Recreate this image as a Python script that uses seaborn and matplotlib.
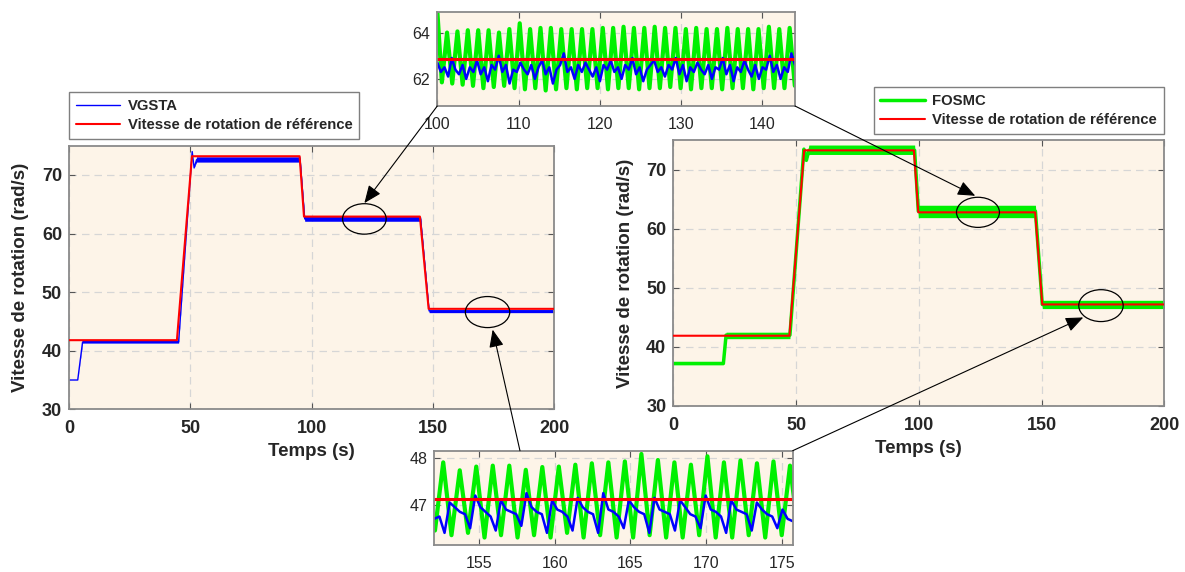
import numpy as np
import matplotlib
matplotlib.use("Agg")
import matplotlib.pyplot as plt
import seaborn as sns
from matplotlib.patches import Ellipse, ConnectionPatch

# ---- data ----
# left panel (VGSTA)
t_ref_l = [0, 44.5, 50.7, 95.1, 96.9, 144.7, 148.3, 200]
w_ref_l = [41.8, 41.8, 73.2, 73.2, 62.9, 62.9, 47.15, 47.15]
t_vg = [0, 3.6, 5.6, 45.2, 50.8, 51.6, 52.6, 95.3, 97.2, 145.0, 148.5, 200]
w_vg = [35.0, 35.0, 41.5, 41.5, 74.0, 71.2, 72.6, 72.6, 62.5, 62.5, 46.8, 46.8]
w_vg_lo = [35.0, 35.0, 41.3, 41.3, 74.0, 71.2, 72.2, 72.2, 62.1, 62.1, 46.5, 46.5]
w_vg_hi = [35.0, 35.0, 41.8, 41.8, 74.0, 71.2, 73.1, 73.1, 62.9, 62.9, 47.0, 47.0]

# right panel (FOSMC)
t_ref_r = [0, 47.3, 53.3, 98.0, 99.8, 147.4, 150.3, 200]
w_ref_r = [41.9, 41.9, 73.3, 73.3, 62.8, 62.8, 47.2, 47.2]
t_fo = [0, 20.4, 21.5, 47.5, 53.2, 54.2, 55.2, 98.3, 99.8, 147.5, 150.3, 200]
w_fo = [37.2, 37.2, 42.0, 42.0, 73.5, 71.6, 73.3, 73.3, 63.0, 63.0, 47.2, 47.2]
w_fo_lo = [37.0, 37.0, 41.4, 41.4, 73.5, 71.6, 72.6, 72.6, 61.9, 61.9, 46.5, 46.5]
w_fo_hi = [37.4, 37.4, 42.5, 42.5, 73.5, 71.6, 74.2, 74.2, 64.0, 64.0, 47.9, 47.9]

# top zoom (100-144 s)
top_ref = 62.85
top_g_first = 64.95
top_g_t0, top_g_period = 101.2, 1.277
top_g_peaks = [64.0, 64.05, 64.1, 64.1, 64.1, 64.0, 64.15, 64.4, 64.15, 64.2,
               64.2, 64.15, 64.15, 64.15, 64.15, 64.2, 64.2, 64.25, 64.2, 64.2,
               64.25, 64.2, 64.2, 64.15, 64.2, 64.15, 64.15, 64.2, 64.15, 64.15,
               64.15, 64.25, 64.15, 64.2]
top_g_troughs = [61.85, 61.8, 61.75, 61.7, 61.6, 61.65, 61.7, 61.6, 61.55, 61.6,
                 61.5, 61.55, 61.6, 61.55, 61.6, 61.6, 61.55, 61.6, 61.6, 61.55,
                 61.6, 61.6, 61.65, 61.6, 61.55, 61.6, 61.6, 61.55, 61.6, 61.6,
                 61.55, 61.6, 61.6, 61.6, 61.7]
top_b = [62.7, 62.3, 62.5, 62.1, 62.9, 62.4, 62.2, 62.6, 62.0, 62.5, 62.3, 62.8, 62.2,
         62.5, 61.9, 62.6, 62.4, 63.0, 62.3, 62.6, 61.8, 62.4, 62.3, 62.7, 62.4, 62.2,
         62.6, 62.0, 62.5, 62.8, 62.2, 62.5, 61.8, 62.4, 62.6, 63.1, 62.3, 62.5, 62.0,
         62.6, 62.3, 62.7, 62.4, 62.1, 62.5, 61.9, 62.6, 62.4, 62.8, 62.3, 62.5, 62.0,
         62.6, 62.4, 62.9, 62.2, 62.5, 61.9, 62.4, 62.6, 62.8, 62.3, 62.5, 62.1, 62.6,
         62.4, 62.9, 62.2, 62.6, 61.9, 62.5, 62.3, 62.7, 62.4, 62.2, 62.6, 62.0, 62.5,
         62.4, 62.9, 62.2, 62.6, 61.9, 62.5, 62.3, 62.8, 62.4, 62.1, 62.6, 62.0, 62.5,
         62.4, 63.0, 62.3, 62.6, 62.0, 62.5, 62.3, 63.1, 62.6]

# bottom zoom (152-176 s)
bot_ref = 47.13
bot_g_t0, bot_g_period = 152.64, 1.091
bot_g_peaks = [47.91, 47.74, 47.82, 47.84, 47.84, 47.75, 47.81, 47.82, 47.86, 47.89,
               47.91, 47.93, 48.09, 47.96, 47.91, 47.86, 48.04, 47.91, 47.95, 47.89,
               47.93, 47.84]
bot_g_troughs = [46.45, 46.35, 46.4, 46.3, 46.35, 46.3, 46.35, 46.3, 46.4, 46.3, 46.35,
                 46.3, 46.3, 46.35, 46.3, 46.3, 46.35, 46.3, 46.3, 46.35, 46.3, 46.35, 46.4]
bot_b = [46.7, 46.75, 46.4, 47.05, 46.95, 46.85, 46.8, 46.5, 47.2, 46.95, 46.85, 46.75,
         46.45, 47.1, 46.9, 46.85, 46.8, 46.55, 47.25, 46.95, 46.85, 46.8, 46.4, 47.1,
         46.9, 46.85, 46.75, 46.45, 47.15, 46.95, 46.85, 46.8, 46.4, 47.25, 46.9, 46.85,
         46.75, 46.5, 47.1, 46.95, 46.85, 46.8, 46.4, 47.15, 46.9, 46.85, 46.8, 46.45,
         47.1, 46.95, 46.8, 46.75, 46.5, 47.2, 46.9, 46.85, 46.75, 46.4, 47.1, 46.9,
         46.85, 46.8, 46.45, 47.05, 46.9, 46.8, 46.75, 46.5, 46.9, 46.7, 46.65]

main_xticks = [0, 50, 100, 150, 200]
main_yticks = [30, 40, 50, 60, 70]
top_xticks = [100, 110, 120, 130, 140]
top_yticks = [62, 64]
bot_xticks = [155, 160, 165, 170, 175]
bot_yticks = [47, 48]

BLUE, RED, GREEN = "#0000ff", "#ff0000", "#00f000"
BG = "#fdf4e8"

sns.set_style("ticks")
plt.rcParams["font.family"] = ["Liberation Sans", "DejaVu Sans"]

W, H = 1185, 572
fig = plt.figure(figsize=(W / 100, H / 100), dpi=100)


def px_axes(left, top, right, bottom):
    return fig.add_axes([left / W, 1 - bottom / H, (right - left) / W, (bottom - top) / H])


def zigzag(t0, period, peaks, troughs):
    # alternate trough / peak, trough half a period before each peak
    t, v = [], []
    for i, tr in enumerate(troughs):
        t.append(t0 - period / 2 + i * period)
        v.append(tr)
        if i < len(peaks):
            t.append(t0 + i * period)
            v.append(peaks[i])
    return t, v


def style(ax, xticks, yticks, xlim, ylim, bold, size, xpad, ypad):
    ax.set_facecolor(BG)
    ax.set_xlim(*xlim)
    ax.set_ylim(*ylim)
    ax.set_xticks(xticks)
    ax.set_yticks(yticks)
    w = "bold" if bold else "normal"
    ax.set_xticklabels([str(v) for v in xticks], fontweight=w, fontsize=size, color="#262626")
    ax.set_yticklabels([str(v) for v in yticks], fontweight=w, fontsize=size, color="#262626")
    for s in ax.spines.values():
        s.set_color("#8a8a8a")
        s.set_linewidth(1.3)
    ax.tick_params(direction="in", top=True, right=True, length=4, width=0.8, color="#555555")
    ax.tick_params(axis="x", pad=xpad)
    ax.tick_params(axis="y", pad=ypad)
    ax.grid(True, ls=(0, (6, 4)), color="#d6d6d6", lw=0.9)
    ax.set_axisbelow(True)


ax_l = px_axes(69, 145.7, 554, 409.3)
ax_r = px_axes(673.3, 140.3, 1164.3, 406)
ax_t = px_axes(437.3, 11.7, 795, 106)
ax_b = px_axes(434.3, 450.7, 792.7, 545)

# ---- left panel ----
ax_l.fill_between(t_vg, w_vg_lo, w_vg_hi, color=BLUE, lw=0, zorder=2)
sns.lineplot(x=t_vg, y=w_vg, ax=ax_l, color=BLUE, lw=1.0, label="VGSTA",
             estimator=None, sort=False, zorder=2)
sns.lineplot(x=t_ref_l, y=w_ref_l, ax=ax_l, color=RED, lw=1.5,
             label="Vitesse de rotation de référence", estimator=None, sort=False, zorder=3)

# ---- right panel ----
ax_r.fill_between(t_fo, w_fo_lo, w_fo_hi, color=GREEN, lw=0, zorder=2)
sns.lineplot(x=t_fo, y=w_fo, ax=ax_r, color=GREEN, lw=2.5, label="FOSMC",
             estimator=None, sort=False, zorder=2)
sns.lineplot(x=t_ref_r, y=w_ref_r, ax=ax_r, color=RED, lw=1.5,
             label="Vitesse de rotation de référence", estimator=None, sort=False, zorder=3)

for ax in (ax_l, ax_r):
    style(ax, main_xticks, main_yticks, (0, 200), (30, 75), True, 13, 8, 5)
    ax.set_xlabel("Temps (s)", fontsize=13.5, fontweight="bold", labelpad=4)
    ax.set_ylabel("Vitesse de rotation (rad/s)", fontsize=13.5, fontweight="bold", labelpad=9)

leg_kw = dict(borderaxespad=0, fancybox=False, edgecolor="#7f7f7f", framealpha=1,
              prop={"weight": "bold", "size": 10.7}, handlelength=3.0, handletextpad=0.5,
              borderpad=0.45, labelspacing=0.35)
ax_l.legend(loc="upper left", bbox_to_anchor=(69 / W, 1 - 92.3 / H),
            bbox_transform=fig.transFigure, **leg_kw).get_frame().set_linewidth(1.0)
ax_r.legend(loc="upper right", bbox_to_anchor=(1163.9 / W, 1 - 87.3 / H),
            bbox_transform=fig.transFigure, **leg_kw).get_frame().set_linewidth(1.0)

# ---- top zoom ----
tg, vg = zigzag(top_g_t0, top_g_period, top_g_peaks, top_g_troughs)
tg, vg = [100.0] + tg, [top_g_first] + vg
sns.lineplot(x=tg, y=vg, ax=ax_t, color=GREEN, lw=3.0, estimator=None, sort=False)
tb = np.linspace(100, 144, len(top_b))
sns.lineplot(x=tb, y=top_b, ax=ax_t, color=BLUE, lw=1.8, estimator=None, sort=False)
ax_t.axhline(top_ref, color=RED, lw=2.2)
style(ax_t, top_xticks, top_yticks, (100, 144), (60.83, 64.9), False, 11.5, 8, 5)

# ---- bottom zoom ----
tg, vg = zigzag(bot_g_t0, bot_g_period, bot_g_peaks, bot_g_troughs)
sns.lineplot(x=tg, y=vg, ax=ax_b, color=GREEN, lw=3.0, estimator=None, sort=False)
tb = np.linspace(152.05, 175.73, len(bot_b))
sns.lineplot(x=tb, y=bot_b, ax=ax_b, color=BLUE, lw=1.8, estimator=None, sort=False)
ax_b.axhline(bot_ref, color=RED, lw=2.2)
style(ax_b, bot_xticks, bot_yticks, (152.05, 175.73), (46.14, 48.16), False, 11.5, 8, 5)

# ---- ellipses around the zoomed regions ----
for ax, (cx, cy, ew, eh) in [(ax_l, (121.8, 62.5, 18, 5.2)), (ax_l, (172.6, 46.6, 18.3, 5.3)),
                             (ax_r, (124.1, 62.8, 17.5, 5.1)), (ax_r, (174.2, 47.0, 18.1, 5.4))]:
    ax.add_patch(Ellipse((cx, cy), ew, eh, fill=False, ec="black", lw=0.9, zorder=5))

# ---- arrows from the zoom boxes ----
arrows = [(ax_t, (0, 0), ax_l, (121.8, 65.2)),
          (ax_t, (1, 0), ax_r, (123.0, 65.6)),
          (ax_b, (0.239, 1), ax_l, (174.7, 43.6)),
          (ax_b, (1, 1), ax_r, (167.0, 45.0))]
for axa, pa, axb, pb in arrows:
    cp = ConnectionPatch(xyA=pa, coordsA=axa.transAxes, xyB=pb, coordsB=axb.transData,
                         arrowstyle="-|>,head_length=0.6,head_width=0.25",
                         mutation_scale=18, color="black", lw=0.8)
    fig.add_artist(cp)

fig.savefig("out.png", dpi=100)
